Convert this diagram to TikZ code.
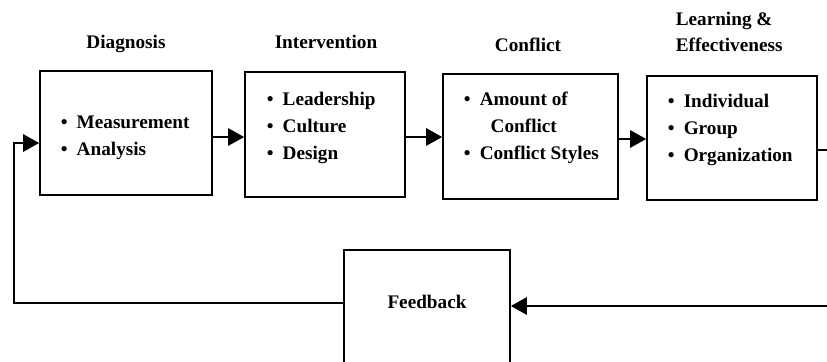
\documentclass[tikz,border=0pt]{standalone}
\usepackage{fontspec}
\setmainfont{Liberation Serif}
\usepackage{calc}
\usetikzlibrary{positioning,arrows.meta}
\tikzset{>={Triangle[length=4.8mm,width=5.2mm]}}
\tikzset{
  box/.style={draw,inner sep=0pt},
  title/.style={inner sep=0pt,anchor=base},
  items/.style={inner sep=0pt,anchor=north west,align=left},
}
\newcommand*{\itm}{\makebox[0.83em][l]{\textbullet}}

\begin{document}
\begin{tikzpicture}[x=0.03cm,y=-0.03cm,line width=1.4pt,
  every node/.style={font=\fontsize{16.4}{23}\selectfont\bfseries}]
\useasboundingbox (0,0) rectangle (827,362);
% Draw the four stage boxes and the feedback box
\node[box,minimum width=5.16cm,minimum height=3.72cm] (diag) at (126,133) {};
\node[box,minimum width=4.8cm,minimum height=3.75cm] (interv) at (325,134.5) {};
\node[box,minimum width=5.25cm,minimum height=3.75cm] (confl) at (530.5,136.5) {};
\node[box,minimum width=5.1cm,minimum height=3.72cm] (learn) at (732,138) {};
\node[box,minimum width=4.98cm,minimum height=3.66cm] (fb) at (427,311) {};
% Headings over the boxes
\node[title] (tdiag) at (126,48) {Diagnosis};
\node[title] (tinterv) at (326,48) {Intervention};
\node[title] (tconfl) at (528,51) {Conflict};
\node[title,anchor=south west,align=left] (tlearn) at (675,53) {Learning \&\\Effectiveness};
% Bullet lists inside the boxes
\node[items] (ldiag) at (60,115) {\itm Measurement\\\itm Analysis};
\node[items] (linterv) at (266,91) {\itm Leadership\\\itm Culture\\\itm Design};
\node[items] (lconfl) at (463,91) {\itm Amount of\\\phantom{\itm}\makebox[\widthof{Amount of}]{Conflict}\\\itm Conflict Styles};
\node[items] (llearn) at (667,93) {\itm Individual\\\itm Group\\\itm Organization};
\node (tfb) at (427,302) {Feedback};
% Connect the boxes along the top row
\draw[->] (diag.east |- 0,137) -- (interv.west |- 0,137);
\draw[->] (interv.east |- 0,137) -- (confl.west |- 0,137);
\draw[->] (confl.east |- 0,139) -- (learn.west |- 0,139);
% Loop back through feedback
\draw[->] (learn.east |- 0,150) -- (845,150) -- (845,306) -- (fb.east |- 0,306);
\draw[->] (fb.west |- 0,303) -- (14,303) -- (14,143) -- (diag.west |- 0,143);
\end{tikzpicture}
\end{document}
